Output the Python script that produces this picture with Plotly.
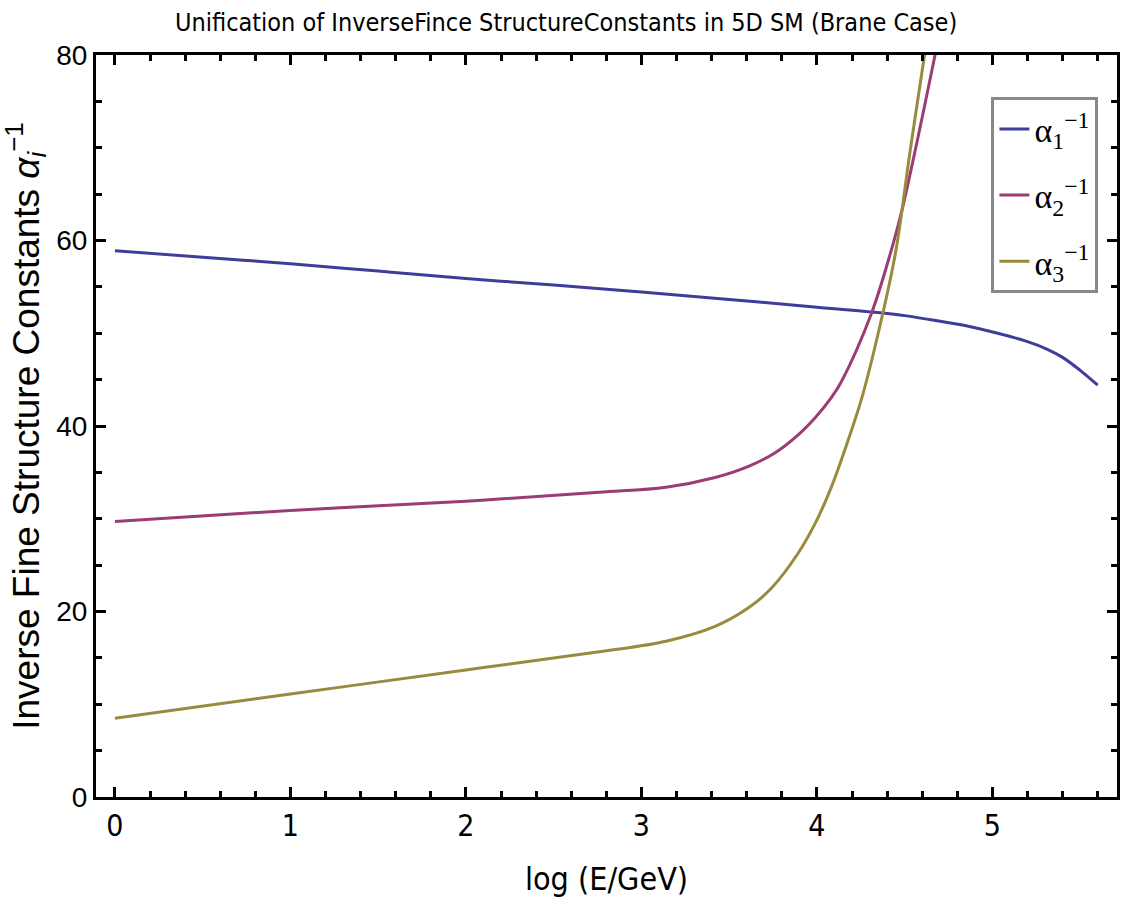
import plotly.graph_objects as go

# Data
x1 = [0, 0.5, 1, 1.5, 2, 2.5, 3, 3.5, 4, 4.36, 4.5, 4.65, 4.85, 5.03, 5.2, 5.31, 5.4, 5.5, 5.6]
a1 = [58.9, 58.2, 57.5, 56.7, 55.9, 55.2, 54.45, 53.65, 52.8, 52.2, 51.9, 51.45, 50.8, 50.0, 49.1, 48.3, 47.4, 46.0, 44.4]

x2 = [0, 1, 2, 2.76, 3.14, 3.42, 3.61, 3.76, 3.89, 3.99, 4.08, 4.14, 4.31, 4.42, 4.48, 4.57, 4.67, 4.72]
a2 = [29.7, 30.9, 31.9, 32.85, 33.4, 34.45, 35.65, 37.1, 39.0, 40.9, 43.0, 44.8, 52.1, 58.7, 62.9, 70.6, 79.7, 84.5]

x3 = [0, 1, 2, 2.76, 3.14, 3.42, 3.61, 3.74, 3.89, 3.99, 4.08, 4.175, 4.26, 4.375, 4.45, 4.53, 4.61, 4.64]
a3 = [8.5, 11.1, 13.7, 15.66, 16.8, 18.4, 20.4, 22.5, 26.2, 29.5, 33.3, 38.3, 43.3, 52.1, 58.9, 69.5, 79.6, 83.5]

names = ["α<sub>1</sub><sup>−1</sup>", "α<sub>2</sub><sup>−1</sup>", "α<sub>3</sub><sup>−1</sup>"]
colors = ["rgb(62,61,153)", "rgb(153,61,116)", "rgb(153,139,61)"]

x_ticks = [0, 1, 2, 3, 4, 5]
y_ticks = [0, 20, 40, 60, 80]

fig = go.Figure()
for i, (xs, ys, nm, c) in enumerate(zip([x1, x2, x3], [a1, a2, a3], names, colors)):
    fig.add_trace(go.Scatter(x=xs, y=ys, mode="lines", name=nm, legendgroup=f"g{i}",
                             line=dict(color=c, width=3, shape="spline", smoothing=1.0)))

narrow = "DejaVu Sans Condensed, Liberation Sans, Arial, sans-serif"
sans = "Liberation Sans, Arial, sans-serif"

fig.update_layout(
    width=1121, height=903,
    margin=dict(l=96, r=1, t=55, b=106),
    paper_bgcolor="white", plot_bgcolor="white",
    title=dict(text="Unification of InverseFince StructureConstants in 5D SM (Brane Case)",
               x=0.505, xanchor="center", y=1 - 22 / 903, yanchor="middle", yref="container",
               font=dict(family=narrow, size=25, color="black")),
    legend=dict(x=0.877, y=0.943, xanchor="left", yanchor="top",
                bordercolor="#888888", borderwidth=3, bgcolor="white",
                font=dict(family="Liberation Serif, Times New Roman, serif", size=34, color="black"),
                itemwidth=30, tracegroupgap=19),
    showlegend=True,
)

fig.update_xaxes(
    range=[-0.108, 5.71], tickvals=x_ticks, ticktext=[str(v) for v in x_ticks],
    showgrid=False, zeroline=False,
    showline=True, linecolor="black", linewidth=3, mirror="allticks",
    ticks="inside", ticklen=10, tickwidth=3, tickcolor="black",
    minor=dict(ticks="inside", dtick=0.2, tick0=0, ticklen=6, tickwidth=3, tickcolor="black", showgrid=False),
    tickfont=dict(family=narrow, size=30, color="black"),
    title=dict(text="log (E/GeV)", standoff=26,
               font=dict(family=narrow, size=32, color="black")),
)
fig.update_yaxes(
    range=[0, 80], tickvals=y_ticks, ticktext=[str(v) for v in y_ticks],
    showgrid=False, zeroline=False,
    showline=True, linecolor="black", linewidth=3, mirror="allticks",
    ticks="inside", ticklen=10, tickwidth=3, tickcolor="black",
    minor=dict(ticks="inside", dtick=5, tick0=0, ticklen=6, tickwidth=3, tickcolor="black", showgrid=False),
    tickfont=dict(family=sans, size=28, color="black"),
    title=dict(text="Inverse Fine Structure Constants <i>α<sub>i</sub></i><sup>−1</sup>", standoff=8,
               font=dict(family=sans, size=37, color="black")),
)

fig.write_html("out.html")
